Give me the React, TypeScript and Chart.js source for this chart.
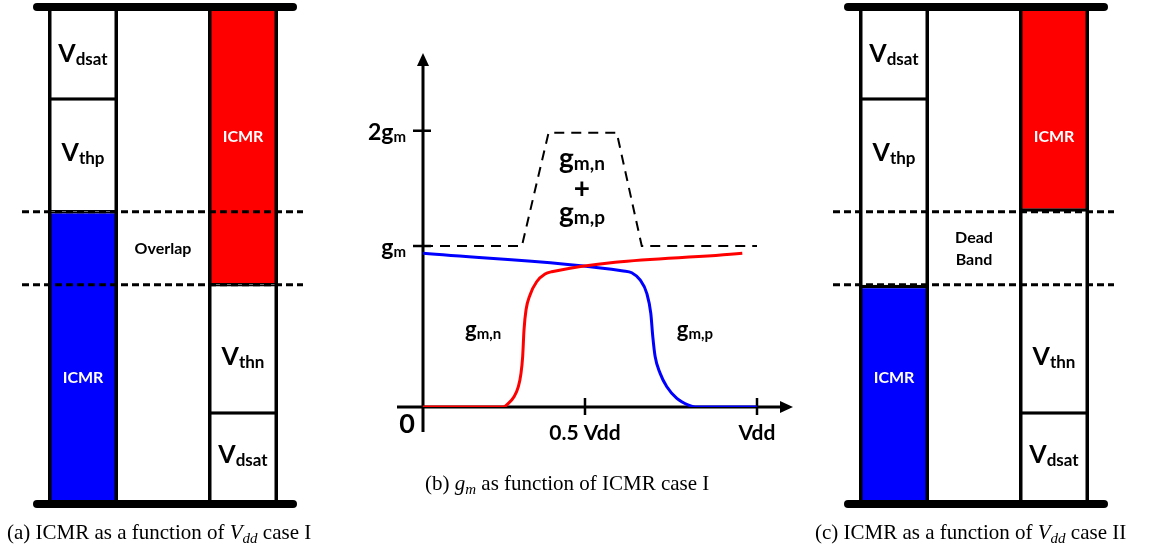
import React, { useEffect, useRef } from "react";
import { Chart, registerables } from "chart.js";

Chart.register(...registerables);

// ---------- Panels (a) and (c): voltage stacks, in units of Vdd (0 = ground rail, 1 = Vdd rail)
const columns = ["PMOS pair", "", "NMOS pair"];
const rails = [0, 1];
const pmosNames = ["ICMR", "V_thp", "V_dsat"];
const nmosNames = ["V_dsat", "V_thn", "ICMR"];
const caseI_pmos = [[0, 0.588], [0.588, 0.815], [0.815, 1.0]];
const caseI_nmos = [[0, 0.183], [0.183, 0.441], [0.441, 1.0]];
const caseII_pmos = [[0, 0.441], [0.588, 0.815], [0.815, 1.0]];
const caseII_nmos = [[0, 0.183], [0.183, 0.441], [0.588, 1.0]];
const pmosLabelY = [0.256, 0.708, 0.908];
const nmosLabelY = [0.101, 0.298, 0.74];
const caseI_middle = ["Overlap"];
const caseI_middleY = [0.515];
const caseII_middle = ["Dead", "Band"];
const caseII_middleY = [0.537, 0.493];

// ---------- Panel (b): transconductance vs input common-mode (x in Vdd, y in gm)
const gmnX = [0, 0.2405, 0.2555, 0.2725, 0.2855, 0.2934, 0.2984, 0.3024, 0.3084, 0.3204, 0.3403, 0.3653, 0.3852, 0.956];
const gmnY = [0, 0, 0.023, 0.064, 0.126, 0.209, 0.313, 0.478, 0.602, 0.696, 0.778, 0.826, 0.84, 0.955];
const gmpX = [0, 0.6, 0.625, 0.65, 0.67, 0.682, 0.688, 0.695, 0.71, 0.73, 0.76, 0.795, 0.815, 1.0];
const gmpY = [0.955, 0.845, 0.834, 0.789, 0.706, 0.582, 0.437, 0.313, 0.209, 0.126, 0.054, 0.012, 0, 0];
const sumX = [0, 0.296, 0.376, 0.58, 0.655, 1.0];
const sumY = [1, 1, 1.704, 1.704, 1, 1];
const xTickValues = [0.485, 1];
const xTickLabels = ["0.5 Vdd", "Vdd"];
const yTickValues = [1, 1.716];
const yTickLabels = ["g_m", "2g_m"];
const curveNotes = ["g_m,n", "g_m,p"];
const curveNoteX = [0.18, 0.814];
const curveNoteY = [0.435, 0.435];
const sumNotes = ["g_m,n", "+", "g_m,p"];
const sumNoteX = 0.476;
const sumNoteY = [1.484, 1.298, 1.149];

// ---------- captions
const captionA = ["(a) ICMR as a function of ", "$V_dd", " case I"];
const captionB = ["(b) ", "$g_m", " as function of ICMR case I"];
const captionC = ["(c) ICMR as a function of ", "$V_dd", " case II"];

const FONT = 'Lato, "Open Sans", sans-serif';
const SERIF = '"Liberation Serif", "Times New Roman", serif';

type Run = { text: string; font: string; dy?: number };

function drawRuns(ctx: CanvasRenderingContext2D, runs: Run[], x: number, y: number, align = "left", color = "#000") {
  let total = 0;
  const widths = runs.map((r) => {
    ctx.font = r.font;
    const w = ctx.measureText(r.text).width;
    total += w;
    return w;
  });
  let cx = align === "center" ? x - total / 2 : align === "right" ? x - total : x;
  ctx.fillStyle = color;
  ctx.textBaseline = "alphabetic";
  ctx.textAlign = "left";
  runs.forEach((r, i) => {
    ctx.font = r.font;
    ctx.fillText(r.text, cx, y + (r.dy || 0));
    cx += widths[i];
  });
}

function subRuns(label: string, mainPx: number, subPx: number, dy: number): Run[] {
  const [main, sub] = label.split("_");
  const runs: Run[] = [{ text: main, font: `bold ${mainPx}px ${FONT}` }];
  if (sub) runs.push({ text: sub, font: `bold ${subPx}px ${FONT}`, dy });
  return runs;
}

function captionRuns(parts: string[]): Run[] {
  const runs: Run[] = [];
  parts.forEach((p) => {
    if (p.startsWith("$")) {
      const [m, s] = p.slice(1).split("_");
      runs.push({ text: m, font: `italic 21px ${SERIF}` });
      if (s) runs.push({ text: s, font: `italic 15px ${SERIF}`, dy: 4 });
    } else runs.push({ text: p, font: `21px ${SERIF}` });
  });
  return runs;
}

function boxDataset(seg: number[], col: number, name: string, all: number[][]) {
  const data: any[] = [null, null, null];
  data[col] = seg;
  const icmr = name === "ICMR";
  const touches = (v: number) => rails.includes(v) || all.some((s) => s !== seg && (s[0] === v || s[1] === v));
  const edge = (v: number) => (touches(v) ? 1.75 : icmr ? 3.5 : 0);
  return {
    label: name,
    data,
    backgroundColor: icmr ? (col === 0 ? "#0000ff" : "#ff0000") : "#ffffff",
    borderColor: "#000000",
    borderWidth: { top: edge(seg[1]), bottom: edge(seg[0]), left: 0, right: 0 },
    borderSkipped: false,
    grouped: false,
    order: 1,
    barPercentage: 0.875,
    categoryPercentage: 1,
  };
}

function stackConfig(pmos: number[][], nmos: number[][], middle: string[], middleY: number[], caption: string[], padLeft: number, padRight: number, capX: number) {
  const datasets: any[] = [
    {
      label: "outline",
      data: [[rails[0], rails[1]], null, [rails[0], rails[1]]],
      backgroundColor: "rgba(0,0,0,0)",
      borderColor: "#000000",
      borderWidth: { left: 3.5, right: 3.5, top: 0, bottom: 0 },
      borderSkipped: false,
      grouped: false,
      order: 0,
      barPercentage: 0.875,
      categoryPercentage: 1,
    },
  ];
  pmos.forEach((seg, i) => datasets.push(boxDataset(seg, 0, pmosNames[i], pmos)));
  nmos.forEach((seg, i) => datasets.push(boxDataset(seg, 2, nmosNames[i], nmos)));

  const decor = {
    id: "stackDecor",
    afterDatasetsDraw(chart: any) {
      const ctx = chart.ctx as CanvasRenderingContext2D;
      const area = chart.chartArea;
      const xs = chart.scales.x;
      const ys = chart.scales.y;
      ctx.save();
      // ICMR limits (dashed)
      const limits = [pmos[0][1], nmos[2][0]];
      ctx.strokeStyle = "#000";
      ctx.lineWidth = 3;
      ctx.setLineDash([7, 4]);
      limits.forEach((v) => {
        const py = ys.getPixelForValue(v);
        ctx.beginPath();
        ctx.moveTo(area.left - 21, py);
        ctx.lineTo(area.right + 20, py);
        ctx.stroke();
      });
      ctx.setLineDash([]);
      // supply rails
      ctx.lineWidth = 8;
      ctx.lineCap = "round";
      rails.forEach((v) => {
        const py = ys.getPixelForValue(v);
        ctx.beginPath();
        ctx.moveTo(area.left - 6, py);
        ctx.lineTo(area.right + 10, py);
        ctx.stroke();
      });
      // box labels
      const drawBox = (name: string, col: number, v: number, fill: string) => {
        const cx = xs.getPixelForValue(col);
        const cy = ys.getPixelForValue(v);
        if (name === "ICMR") drawRuns(ctx, [{ text: name, font: `bold 16px ${FONT}` }], cx, cy + 6, "center", "#fff");
        else drawRuns(ctx, subRuns(name, 25, 17, 3), cx, cy + 9, "center", fill);
      };
      pmosNames.forEach((n, i) => drawBox(n, 0, pmosLabelY[i], "#000"));
      nmosNames.forEach((n, i) => drawBox(n, 2, nmosLabelY[i], "#000"));
      middle.forEach((t, i) => {
        drawRuns(ctx, [{ text: t, font: `bold 16px ${FONT}` }], xs.getPixelForValue(1), ys.getPixelForValue(middleY[i]) + 6, "center");
      });
      // caption
      drawRuns(ctx, captionRuns(caption), capX, 539, "left");
      ctx.restore();
    },
  };

  return {
    type: "bar",
    data: { labels: columns, datasets },
    options: {
      responsive: false,
      maintainAspectRatio: false,
      animation: false,
      events: [],
      layout: { padding: { left: padLeft, right: padRight, top: 7, bottom: 47 } },
      plugins: { legend: { display: false }, tooltip: { enabled: false } },
      scales: {
        x: { type: "category", display: false, offset: true },
        y: { type: "linear", display: false, min: 0, max: 1 },
      },
    },
    plugins: [decor],
  };
}

function gmConfig() {
  const pts = (xs: number[], ys: number[]) => xs.map((x, i) => ({ x, y: ys[i] }));
  const decor = {
    id: "gmDecor",
    beforeDatasetsDraw(chart: any) {
      const ctx = chart.ctx as CanvasRenderingContext2D;
      const xs = chart.scales.x;
      const ys = chart.scales.y;
      const ox = xs.getPixelForValue(0);
      const oy = ys.getPixelForValue(0);
      const xEnd = xs.getPixelForValue(1);
      const yTop = ys.getPixelForValue(2);
      ctx.save();
      ctx.strokeStyle = "#000";
      ctx.fillStyle = "#000";
      ctx.lineWidth = 3;
      // x axis
      ctx.beginPath();
      ctx.moveTo(ox - 26, oy);
      ctx.lineTo(xEnd + 25, oy);
      ctx.stroke();
      ctx.beginPath();
      ctx.moveTo(xEnd + 36, oy);
      ctx.lineTo(xEnd + 23, oy - 6);
      ctx.lineTo(xEnd + 23, oy + 6);
      ctx.closePath();
      ctx.fill();
      // y axis
      ctx.beginPath();
      ctx.moveTo(ox, oy + 25);
      ctx.lineTo(ox, yTop - 20);
      ctx.stroke();
      ctx.beginPath();
      ctx.moveTo(ox, yTop - 32);
      ctx.lineTo(ox - 6, yTop - 19);
      ctx.lineTo(ox + 6, yTop - 19);
      ctx.closePath();
      ctx.fill();
      // ticks
      ctx.lineWidth = 2.5;
      xTickValues.forEach((v) => {
        const px = xs.getPixelForValue(v);
        ctx.beginPath();
        ctx.moveTo(px, oy - 9);
        ctx.lineTo(px, oy + 8);
        ctx.stroke();
      });
      yTickValues.forEach((v) => {
        const py = ys.getPixelForValue(v);
        ctx.beginPath();
        ctx.moveTo(ox - 10, py);
        ctx.lineTo(ox + 8, py);
        ctx.stroke();
      });
      ctx.restore();
    },
    afterDatasetsDraw(chart: any) {
      const ctx = chart.ctx as CanvasRenderingContext2D;
      const xs = chart.scales.x;
      const ys = chart.scales.y;
      const ox = xs.getPixelForValue(0);
      const oy = ys.getPixelForValue(0);
      ctx.save();
      drawRuns(ctx, [{ text: "0", font: `bold 27px ${FONT}` }], ox - 16, oy + 26, "center");
      xTickValues.forEach((v, i) => {
        drawRuns(ctx, [{ text: xTickLabels[i], font: `bold 21px ${FONT}` }], xs.getPixelForValue(v), oy + 33, "center");
      });
      yTickValues.forEach((v, i) => {
        drawRuns(ctx, subRuns(yTickLabels[i], 23, 15, 2), ox - 17, ys.getPixelForValue(v) + 9, "right");
      });
      curveNotes.forEach((t, i) => {
        drawRuns(ctx, subRuns(t, 22, 15, 2), xs.getPixelForValue(curveNoteX[i]), ys.getPixelForValue(curveNoteY[i]), "center");
      });
      sumNotes.forEach((t, i) => {
        const runs = t === "+" ? [{ text: t, font: `bold 28px ${FONT}` }] : subRuns(t, 28, 19, 2);
        drawRuns(ctx, runs, xs.getPixelForValue(sumNoteX), ys.getPixelForValue(sumNoteY[i]), "center");
      });
      drawRuns(ctx, captionRuns(captionB), 95, 490, "left");
      ctx.restore();
    },
  };
  return {
    type: "line",
    data: {
      datasets: [
        { label: "g_m,n", data: pts(gmnX, gmnY), borderColor: "#ff0000", borderWidth: 3, pointRadius: 0, cubicInterpolationMode: "monotone", fill: false, order: 0 },
        { label: "g_m,p", data: pts(gmpX, gmpY), borderColor: "#0000ff", borderWidth: 3, pointRadius: 0, cubicInterpolationMode: "monotone", fill: false, order: 1 },
        { label: "g_m,n + g_m,p", data: pts(sumX, sumY), borderColor: "#000000", borderWidth: 2, borderDash: [10, 7], pointRadius: 0, tension: 0, fill: false, order: 2 },
      ],
    },
    options: {
      responsive: false,
      maintainAspectRatio: false,
      animation: false,
      events: [],
      layout: { padding: { left: 93, right: 43, top: 85, bottom: 144 } },
      plugins: { legend: { display: false }, tooltip: { enabled: false } },
      scales: {
        x: { type: "linear", display: false, min: 0, max: 1 },
        y: { type: "linear", display: false, min: 0, max: 2 },
      },
    },
    plugins: [decor],
  };
}

export default function App() {
  const refA = useRef<HTMLCanvasElement>(null);
  const refB = useRef<HTMLCanvasElement>(null);
  const refC = useRef<HTMLCanvasElement>(null);

  useEffect(() => {
    const charts = [
      new Chart(refA.current as any, stackConfig(caseI_pmos, caseI_nmos, caseI_middle, caseI_middleY, captionA, 43, 47, 7) as any),
      new Chart(refB.current as any, gmConfig() as any),
      new Chart(refC.current as any, stackConfig(caseII_pmos, caseII_nmos, caseII_middle, caseII_middleY, captionC, 54, 55, 15) as any),
    ];
    return () => charts.forEach((c) => c.destroy());
  }, []);

  return (
    <div style={{ position: "fixed", left: 0, top: 0, width: 1149, height: 551, background: "#fff", overflow: "hidden" }}>
      <canvas ref={refA} width={330} height={551} style={{ position: "absolute", left: 0, top: 0 }} />
      <canvas ref={refB} width={470} height={551} style={{ position: "absolute", left: 330, top: 0 }} />
      <canvas ref={refC} width={349} height={551} style={{ position: "absolute", left: 800, top: 0 }} />
    </div>
  );
}
